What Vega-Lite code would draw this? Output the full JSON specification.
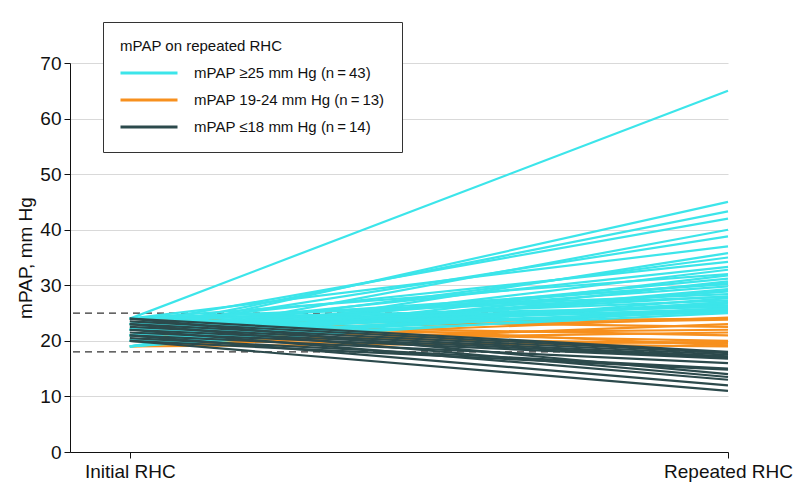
{
  "$schema": "https://vega.github.io/schema/vega-lite/v6.json",
  "width": 658,
  "height": 389,
  "autosize": {"type": "none"},
  "padding": {"left": 70, "top": 63, "right": 70, "bottom": 52},
  "config": {
    "font": "Liberation Sans",
    "view": {"stroke": null},
    "axis": {
      "domainColor": "#111",
      "tickColor": "#111",
      "tickSize": 6,
      "labelColor": "#111",
      "labelFontSize": 19,
      "titleColor": "#111",
      "titleFontSize": 19,
      "titleFontWeight": "normal"
    }
  },
  "layer": [
    {
      "data": {"values": [{"ref": 25}, {"ref": 18}]},
      "mark": {"type": "rule", "strokeDash": [7, 5], "color": "#333", "strokeWidth": 1.2},
      "encoding": {
        "y": {"field": "ref", "type": "quantitative", "title": "mPAP, mm Hg",
              "scale": {"domain": [0, 70], "nice": false}}
      }
    },
    {
      "data": {
        "values": [
          {"g": "mid", "a": 23, "b": 24},
          {"g": "mid", "a": 20, "b": 24.2},
          {"g": "mid", "a": 22, "b": 23.8},
          {"g": "mid", "a": 19, "b": 23},
          {"g": "mid", "a": 24, "b": 22.5},
          {"g": "mid", "a": 21, "b": 22},
          {"g": "mid", "a": 20, "b": 21.5},
          {"g": "mid", "a": 23, "b": 21},
          {"g": "mid", "a": 22, "b": 20},
          {"g": "mid", "a": 19, "b": 19.8},
          {"g": "mid", "a": 21, "b": 19.5},
          {"g": "mid", "a": 24, "b": 19.2},
          {"g": "mid", "a": 20, "b": 19},
          {"g": "hi", "a": 24, "b": 65},
          {"g": "hi", "a": 21, "b": 45},
          {"g": "hi", "a": 22, "b": 43.3},
          {"g": "hi", "a": 23, "b": 42},
          {"g": "hi", "a": 20, "b": 40},
          {"g": "hi", "a": 22, "b": 38.8},
          {"g": "hi", "a": 24, "b": 37},
          {"g": "hi", "a": 19, "b": 35.8},
          {"g": "hi", "a": 21, "b": 35},
          {"g": "hi", "a": 23, "b": 34.2},
          {"g": "hi", "a": 22, "b": 33.3},
          {"g": "hi", "a": 20, "b": 32.8},
          {"g": "hi", "a": 24, "b": 32},
          {"g": "hi", "a": 21, "b": 31.2},
          {"g": "hi", "a": 19, "b": 30.7},
          {"g": "hi", "a": 23, "b": 30.2},
          {"g": "hi", "a": 22, "b": 29.8},
          {"g": "hi", "a": 20, "b": 29.3},
          {"g": "hi", "a": 21, "b": 28.9},
          {"g": "hi", "a": 24, "b": 28.4},
          {"g": "hi", "a": 22, "b": 28},
          {"g": "hi", "a": 19, "b": 27.7},
          {"g": "hi", "a": 23, "b": 27.3},
          {"g": "hi", "a": 20, "b": 27},
          {"g": "hi", "a": 21, "b": 26.7},
          {"g": "hi", "a": 22, "b": 26.4},
          {"g": "hi", "a": 24, "b": 26.1},
          {"g": "hi", "a": 20, "b": 25.9},
          {"g": "hi", "a": 19, "b": 25.7},
          {"g": "hi", "a": 23, "b": 25.5},
          {"g": "hi", "a": 21, "b": 25.3},
          {"g": "hi", "a": 22, "b": 25.2},
          {"g": "hi", "a": 24, "b": 25.1},
          {"g": "hi", "a": 20, "b": 25},
          {"g": "hi", "a": 21, "b": 25.4},
          {"g": "hi", "a": 23, "b": 25.6},
          {"g": "hi", "a": 19, "b": 31.8},
          {"g": "hi", "a": 22, "b": 30.4},
          {"g": "hi", "a": 20, "b": 29},
          {"g": "hi", "a": 24, "b": 27.9},
          {"g": "hi", "a": 21, "b": 26.9},
          {"g": "hi", "a": 23, "b": 26.2},
          {"g": "hi", "a": 22, "b": 25.8},
          {"g": "lo", "a": 24, "b": 18},
          {"g": "lo", "a": 23.5, "b": 17.8},
          {"g": "lo", "a": 23, "b": 17.5},
          {"g": "lo", "a": 22.5, "b": 17.2},
          {"g": "lo", "a": 22, "b": 17},
          {"g": "lo", "a": 21.5, "b": 16.8},
          {"g": "lo", "a": 21, "b": 16},
          {"g": "lo", "a": 20.5, "b": 15},
          {"g": "lo", "a": 20, "b": 14.8},
          {"g": "lo", "a": 24, "b": 14},
          {"g": "lo", "a": 23, "b": 13.5},
          {"g": "lo", "a": 22, "b": 13},
          {"g": "lo", "a": 21, "b": 12},
          {"g": "lo", "a": 20, "b": 11}
        ]
      },
      "mark": {"type": "rule", "strokeWidth": 2.2},
      "encoding": {
        "x": {
          "datum": 0,
          "type": "quantitative",
          "scale": {"domain": [-0.1, 1], "nice": false, "zero": false},
          "axis": {
            "values": [0, 1],
            "grid": false,
            "title": null,
            "labelPadding": 4,
            "labelFlush": false,
            "labelOverlap": false,
            "labelExpr": "datum.value == 0 ? 'Initial RHC' : 'Repeated RHC'"
          }
        },
        "x2": {"datum": 1},
        "y": {
          "field": "a",
          "type": "quantitative",
          "title": "mPAP, mm Hg",
          "scale": {"domain": [0, 70], "nice": false},
          "axis": {
            "values": [0, 10, 20, 30, 40, 50, 60, 70],
            "grid": true,
            "gridColor": "#d9d9d9",
            "labelPadding": 3,
            "titlePadding": 4
          }
        },
        "y2": {"field": "b"},
        "color": {
          "field": "g",
          "type": "nominal",
          "scale": {"domain": ["hi", "mid", "lo"], "range": ["#3CE5EA", "#F7901E", "#2C4A4C"]},
          "legend": {
            "orient": "none",
            "legendX": 33,
            "legendY": -41,
            "title": "mPAP on repeated RHC",
            "titleFontWeight": "normal",
            "titleFontSize": 15,
            "titleColor": "#111",
            "titlePadding": 8,
            "titleLimit": 0,
            "labelFontSize": 15,
            "labelColor": "#111",
            "labelLimit": 0,
            "labelOffset": 34,
            "symbolType": "M-3,0H3",
            "symbolSize": 361,
            "symbolOffset": 18,
            "symbolStrokeWidth": 3,
            "rowPadding": 8,
            "padding": 17,
            "strokeColor": "#333",
            "fillColor": "white",
            "labelExpr": "datum.value == 'hi' ? 'mPAP ≥25 mm Hg (n\u2009=\u200943)' : datum.value == 'mid' ? 'mPAP 19-24 mm Hg (n\u2009=\u200913)' : 'mPAP ≤18 mm Hg (n\u2009=\u200914)'"
          }
        }
      }
    }
  ]
}
